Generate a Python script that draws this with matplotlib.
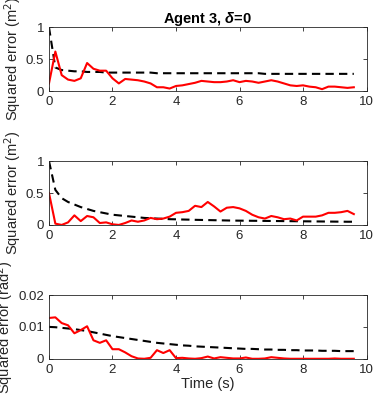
import numpy as np
import matplotlib
matplotlib.use("Agg")
import matplotlib.pyplot as plt

plt.rcParams["font.family"] = ["Liberation Sans", "DejaVu Sans"]
plt.rcParams["mathtext.fontset"] = "custom"
plt.rcParams["mathtext.it"] = "Liberation Sans:italic:bold"

# time axis, one sample every 0.2 s
time = [round(0.2 * i, 1) for i in range(49)]

# panel 1: position error x
pos_x_err = [0.12, 0.62, 0.25, 0.18, 0.16, 0.20, 0.44, 0.35, 0.32, 0.32,
             0.20, 0.12, 0.19, 0.18, 0.17, 0.15, 0.12, 0.06, 0.06, 0.04,
             0.08, 0.09, 0.11, 0.13, 0.16, 0.15, 0.14, 0.14, 0.15, 0.17,
             0.14, 0.16, 0.15, 0.13, 0.15, 0.17, 0.15, 0.12, 0.09, 0.08,
             0.09, 0.07, 0.06, 0.03, 0.07, 0.07, 0.06, 0.05, 0.06]
pos_x_bound = [1.00, 0.37, 0.33, 0.32, 0.31, 0.31, 0.30, 0.30, 0.30, 0.29,
               0.29, 0.29, 0.29, 0.29, 0.29, 0.29, 0.29, 0.28, 0.28, 0.28,
               0.28, 0.28, 0.28, 0.28, 0.28, 0.28, 0.28, 0.28, 0.28, 0.28,
               0.28, 0.28, 0.28, 0.28, 0.27, 0.27, 0.27, 0.27, 0.27, 0.27,
               0.27, 0.27, 0.27, 0.27, 0.27, 0.27, 0.27, 0.27, 0.27]

# panel 2: position error y
pos_y_err = [0.50, 0.02, 0.00, 0.04, 0.15, 0.06, 0.14, 0.12, 0.03, 0.04,
             0.01, 0.00, 0.03, 0.07, 0.05, 0.07, 0.11, 0.09, 0.10, 0.13,
             0.19, 0.20, 0.22, 0.30, 0.28, 0.36, 0.29, 0.21, 0.27, 0.28,
             0.26, 0.22, 0.16, 0.12, 0.10, 0.14, 0.12, 0.09, 0.10, 0.07,
             0.13, 0.13, 0.13, 0.15, 0.19, 0.19, 0.20, 0.22, 0.17]
pos_y_bound = [1.00, 0.55, 0.42, 0.36, 0.32, 0.28, 0.25, 0.22, 0.20, 0.18,
               0.16, 0.15, 0.14, 0.13, 0.12, 0.11, 0.105, 0.10, 0.095, 0.09,
               0.088, 0.085, 0.083, 0.08, 0.078, 0.076, 0.074, 0.072, 0.07, 0.068,
               0.067, 0.066, 0.065, 0.064, 0.063, 0.062, 0.061, 0.06, 0.059, 0.058,
               0.057, 0.056, 0.055, 0.054, 0.053, 0.052, 0.051, 0.05, 0.05]

# panel 3: heading error
head_err = [0.0128, 0.0130, 0.0112, 0.0105, 0.0080, 0.0090, 0.0102, 0.0058, 0.0050, 0.0058,
            0.0030, 0.0030, 0.0020, 0.0008, 0.0001, 0.0000, 0.0003, 0.0027, 0.0018, 0.0027,
            0.0002, 0.0003, 0.0001, 0.0000, 0.0002, 0.0007, 0.0001, 0.0005, 0.0003, 0.0001,
            0.0001, 0.0004, 0.0000, 0.0000, 0.0001, 0.0005, 0.0003, 0.0001, 0.0000, 0.0000,
            0.0000, 0.0000, 0.0000, 0.0000, 0.0000, 0.0001, 0.0000, 0.0000, 0.0000]
head_bound = [0.0100, 0.0099, 0.0097, 0.0095, 0.0093, 0.0090, 0.0087, 0.0083, 0.0079, 0.0075,
              0.0071, 0.0068, 0.0065, 0.0062, 0.0059, 0.0056, 0.0053, 0.0050, 0.0048, 0.0046,
              0.0044, 0.0042, 0.0041, 0.0039, 0.0038, 0.0037, 0.0036, 0.0035, 0.0034, 0.0033,
              0.0032, 0.0031, 0.0031, 0.0030, 0.0029, 0.0029, 0.0028, 0.0028, 0.0027, 0.0027,
              0.0026, 0.0026, 0.0026, 0.0025, 0.0025, 0.0025, 0.0024, 0.0024, 0.0024]

fig = plt.figure(figsize=(3.74, 3.96), dpi=100)
left, width, height = 0.131, 0.849, 0.161
bottoms = [0.770, 0.432, 0.094]

panels = [
    (pos_x_err, pos_x_bound, [0, 1], [0, 0.5, 1], ["0", "0.5", "1"], "Squared error (m$^2$)"),
    (pos_y_err, pos_y_bound, [0, 1], [0, 0.5, 1], ["0", "0.5", "1"], "Squared error (m$^2$)"),
    (head_err, head_bound, [0, 0.02], [0, 0.01, 0.02], ["0", "0.01", "0.02"], "Squared error (rad$^2$)"),
]

axes = []
for (err, bound, ylim, yt, ytl, ylab), b in zip(panels, bottoms):
    ax = fig.add_axes([left, b, width, height])
    ax.plot(time, bound, color="black", linestyle=(0, (4, 2.5)), linewidth=1.5)
    ax.plot(time, err, color="red", linewidth=1.5)
    ax.set_xlim(0, 10)
    ax.set_ylim(*ylim)
    ax.set_xticks([0, 2, 4, 6, 8, 10])
    ax.set_yticks(yt)
    ax.set_yticklabels(ytl)
    ax.tick_params(direction="in", top=True, right=True, labelsize=9.5,
                   length=3, width=0.6, colors="#262626")
    for s in ax.spines.values():
        s.set_linewidth(0.6)
        s.set_color("#262626")
    ax.set_ylabel(ylab, fontsize=10.5, color="#262626", labelpad=2)
    axes.append(ax)

axes[0].set_title("Agent 3, $\\delta$=0", fontsize=10.5, fontweight="bold", pad=3)
axes[2].set_xlabel("Time (s)", fontsize=10.5, color="#262626", labelpad=1)

fig.savefig("out.png", dpi=100)
